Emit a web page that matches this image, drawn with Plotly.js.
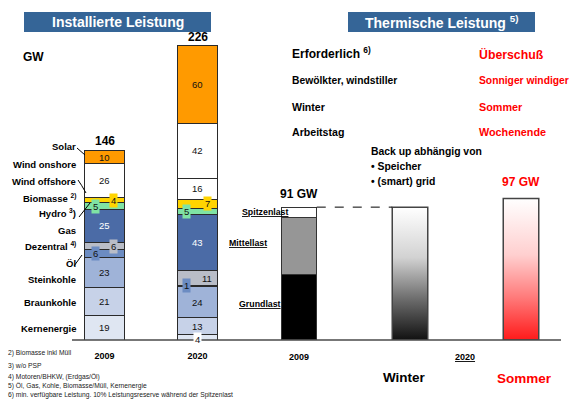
<!DOCTYPE html>
<html><head><meta charset="utf-8">
<script src="https://cdn.plot.ly/plotly-3.0.1.min.js"></script>
<style>html,body{margin:0;padding:0;background:#fff;}</style>
</head><body>
<div id="chart" style="width:571px;height:401px"></div>
<script>
// ---------- DATA ----------
const years = ['2009', '2020'];
const sources = ['Kernenergie', 'Braunkohle', 'Steinkohle', 'Öl', 'Dezentral', 'Gas', 'Hydro', 'Biomasse', 'Wind offshore', 'Wind onshore', 'Solar'];
const kernenergie = [19, 4];
const braunkohle = [21, 13];
const steinkohle = [23, 24];
const oel = [6, 1];
const dezentral = [6, 11];
const gas = [25, 43];
const hydro = [5, 5];
const biomasse = [4, 7];
const windOffshore = [0, 16];
const windOnshore = [26, 42];
const solar = [10, 60];
const totals = [146, 226];

const thermCats = ['2009', 'Winter', 'Sommer'];
const thermYears = ['2009', '2020'];
const lastTypes = ['Grundlast', 'Mittellast', 'Spitzenlast'];
const grundlast = [45];
const mittellast = [39];
const spitzenlast = [7];
const thermTotal = [91];
const winterValue = [91];
const sommerValue = [97];

// ---------- STYLE ----------
const W = 571, H = 401;
const FONT = "'Liberation Sans', Arial, sans-serif";
const RED = '#ff0000';
const X = px => px / W;
const Y = py => 1 - py / H;

const seriesVals = [kernenergie, braunkohle, steinkohle, oel, dezentral, gas, hydro, biomasse, windOffshore, windOnshore, solar];
const srcColors = {
  'Kernenergie': '#dfe6f2', 'Braunkohle': '#c7d2e8', 'Steinkohle': '#9fb3d8', 'Öl': '#6c8cc2',
  'Dezentral': '#b9bdc7', 'Gas': '#4b6ba6', 'Hydro': '#7fe3a4', 'Biomasse': '#ffd400',
  'Wind offshore': '#ffffff', 'Wind onshore': '#ffffff', 'Solar': '#ff9a00'
};
const srcLabels = {
  'Kernenergie': 'Kernenergie', 'Braunkohle': 'Braunkohle', 'Steinkohle': 'Steinkohle', 'Öl': 'Öl',
  'Dezentral': 'Dezentral <sup>4)</sup>', 'Gas': 'Gas', 'Hydro': 'Hydro <sup>3</sup>)', 'Biomasse': 'Biomasse <sup>2)</sup>',
  'Wind offshore': 'Wind offshore', 'Wind onshore': 'Wind onshore', 'Solar': 'Solar'
};
// label placement (pixel y of the category names on the left)
const srcLabelY = {
  'Solar': 147, 'Wind onshore': 164, 'Wind offshore': 181, 'Biomasse': 198, 'Hydro': 213, 'Gas': 230,
  'Dezentral': 246, 'Öl': 263, 'Steinkohle': 279, 'Braunkohle': 302, 'Kernenergie': 328
};
// value-label styling (per series / year index)
const valStyle = {
  'Biomasse': [{xs: 9, bg: '#ffd400'}, {xs: 10, bg: '#ffd400'}],
  'Hydro': [{xs: -9, bg: '#7fe3a4'}, {xs: -11, bg: '#7fe3a4'}],
  'Dezentral': [{xs: 9, bg: '#b9bdc7'}, {xs: 9}],
  'Öl': [{xs: -9, bg: '#6c8cc2'}, {xs: -11, bg: '#6c8cc2'}],
  'Gas': [{col: '#ffffff'}, {col: '#ffffff'}],
  'Kernenergie': [{}, {bg: '#ffffff', ys: -2}]
};

const BARW = 0.43;
const data = [];
sources.forEach((s, k) => {
  data.push({
    type: 'bar', x: [0, 1], y: seriesVals[k], width: BARW, name: s,
    xaxis: 'x', yaxis: 'y', hoverinfo: 'skip', showlegend: false,
    marker: {color: srcColors[s], line: {color: '#2a2a2a', width: 1}}
  });
});

// thermal 2009 stacked bar
const TW = 0.32;
const lastVals = [grundlast, mittellast, spitzenlast];
const lastColors = ['#000000', '#969696', '#ffffff'];
lastTypes.forEach((t, k) => {
  data.push({
    type: 'bar', x: [0], y: lastVals[k], width: TW, name: t,
    xaxis: 'x2', yaxis: 'y2', hoverinfo: 'skip', showlegend: false,
    marker: {color: lastColors[k], line: {color: '#333333', width: 1.2}}
  });
});
// gradient bars (Winter, Sommer) drawn as filled scatter shapes
function gradBar(xi, v, cs) {
  return {
    type: 'scatter', mode: 'lines', xaxis: 'x2', yaxis: 'y2', hoverinfo: 'skip', showlegend: false,
    x: [xi - TW / 2, xi + TW / 2, xi + TW / 2, xi - TW / 2, xi - TW / 2],
    y: [0, 0, v, v, 0],
    fill: 'toself',
    fillgradient: {type: 'vertical', colorscale: cs, start: 0, stop: v},
    line: {color: '#444444', width: 1.5}
  };
}
data.push(gradBar(1, winterValue[0], [[0, '#111111'], [0.3, '#6a6a6a'], [0.62, '#d2d2d2'], [1, '#ffffff']]));
data.push(gradBar(2, sommerValue[0], [[0, '#ff1a1a'], [0.3, '#ff7a7a'], [0.6, '#ffcfcf'], [1, '#ffffff']]));

// ---------- ANNOTATIONS ----------
const ann = [];
function A(text, px, py, o) {
  o = o || {};
  ann.push(Object.assign({
    text: text, xref: 'paper', yref: 'paper', x: X(px), y: Y(py),
    xanchor: o.xa || 'left', yanchor: 'middle', showarrow: false,
    font: {family: FONT, size: o.size || 11, color: o.color || '#000', weight: o.w === undefined ? 700 : o.w}
  }, o.extra || {}));
}

// title boxes text
A('Installierte Leistung', 117.5, 22, {xa: 'center', size: 14, color: '#ffffff'});
A('Thermische Leistung <sup>5)</sup>', 441.5, 22, {xa: 'center', size: 14, color: '#ffffff'});
A('GW', 21, 57, {size: 12});

// category labels on the left
sources.forEach(s => A(srcLabels[s], 78, srcLabelY[s], {xa: 'right', size: 9.5}));

// value labels in stacked bars
years.forEach((yr, i) => {
  let base = 0;
  sources.forEach((s, k) => {
    const v = seriesVals[k][i];
    if (v > 0) {
      const st = (valStyle[s] && valStyle[s][i]) || {};
      ann.push({
        text: String(v), xref: 'x', yref: 'y', x: i, y: base + v / 2,
        xshift: st.xs || 0, yshift: st.ys || 0, showarrow: false,
        xanchor: 'center', yanchor: 'middle',
        bgcolor: st.bg || 'rgba(0,0,0,0)', borderpad: 1,
        font: {family: FONT, size: 9.5, color: st.col || '#111'}
      });
    }
    base += v;
  });
  ann.push({
    text: String(totals[i]), xref: 'x', yref: 'y', x: i, y: totals[i], yshift: 8,
    showarrow: false, xanchor: 'center', yanchor: 'middle',
    font: {family: FONT, size: 12, color: '#000', weight: 700}
  });
});

// right-side text block
A('Erforderlich <sup>6)</sup>', 290, 53, {size: 12});
A('Bewölkter, windstiller', 290, 81, {size: 10.3});
A('Winter', 290, 107, {size: 10.6});
A('Arbeitstag', 290, 132, {size: 10.6});
A('Überschuß', 477, 54, {size: 12.3, color: RED});
A('Sonniger windiger', 477, 81, {size: 10.3, color: RED});
A('Sommer', 477, 107, {size: 10.8, color: RED});
A('Wochenende', 477, 132, {size: 10.8, color: RED});
A('Back up abhängig von', 369, 152, {size: 10.4});
A('• Speicher', 369, 167, {size: 10.4});
A('• (smart) grid', 369, 182, {size: 10.4});

// thermal labels
ann.push({text: thermTotal[0] + ' GW', xref: 'x2', yref: 'y2', x: 0, y: thermTotal[0], yshift: 13,
  showarrow: false, xanchor: 'center', yanchor: 'middle', font: {family: FONT, size: 12, weight: 700, color: '#000'}});
ann.push({text: sommerValue[0] + ' GW', xref: 'x2', yref: 'y2', x: 2, y: sommerValue[0], yshift: 16,
  showarrow: false, xanchor: 'center', yanchor: 'middle', font: {family: FONT, size: 12, weight: 700, color: RED}});
A('<u>' + lastTypes[2] + '</u>', 291, 212, {xa: 'right', size: 8.8});
A('<u>' + lastTypes[1] + '</u>', 227, 243, {size: 8.8});
A('<u>' + lastTypes[0] + '</u>', 237, 304, {size: 8.8});

// bottom labels on the right
A(thermCats[0], 299, 357, {xa: 'center', size: 9});
A('<u>' + thermYears[1] + '</u>', 464.5, 357, {xa: 'center', size: 9});
A(thermCats[1], 404.5, 377, {xa: 'center', size: 13.5});
A(thermCats[2], 524, 378, {xa: 'center', size: 13.5, color: RED});

// footnotes
const notes = [
  ['2) Biomasse inkl Müll', 352.5],
  ['3) w/o PSP', 366],
  ['4) Motoren/BHKW, (Erdgas/Öl)', 376.5],
  ['5) Öl, Gas, Kohle, Biomasse/Müll, Kernenergie', 386],
  ['6) min. verfügbare Leistung. 10% Leistungsreserve während der Spitzenlast', 395]
];
notes.forEach(n => A(n[0], 6, n[1], {size: 6.7, w: 400, color: '#222'}));

// ---------- SHAPES ----------
const shapes = [
  {type: 'rect', xref: 'paper', yref: 'paper', x0: X(24), x1: X(211), y0: Y(32), y1: Y(12), fillcolor: '#356597', line: {width: 0}},
  {type: 'rect', xref: 'paper', yref: 'paper', x0: X(348), x1: X(535), y0: Y(32), y1: Y(12), fillcolor: '#356597', line: {width: 0}},
  {type: 'line', xref: 'paper', yref: 'paper', x0: X(72), x1: X(561), y0: Y(340), y1: Y(340), line: {color: '#4a4a4a', width: 1.5}},
  // leader lines
  {type: 'line', xref: 'paper', yref: 'paper', x0: X(77), y0: Y(148), x1: X(85), y1: Y(155), line: {color: '#000', width: 1}},
  {type: 'path', xref: 'paper', yref: 'paper', path: `M ${X(78)} ${Y(180)} Q ${X(81)} ${Y(184)} ${X(86)} ${Y(193)}`, line: {color: '#000', width: 1}},
  {type: 'line', xref: 'paper', yref: 'paper', x0: X(79), y0: Y(217), x1: X(90), y1: Y(203), line: {color: '#000', width: 1}},
  {type: 'line', xref: 'paper', yref: 'paper', x0: X(74), y0: Y(266), x1: X(82), y1: Y(255), line: {color: '#000', width: 1}},
  // dashed connector from 2009 thermal top to winter bar
  {type: 'line', xref: 'x2', yref: 'y2', x0: TW / 2, x1: 1 - TW / 2, y0: thermTotal[0], y1: thermTotal[0], line: {color: '#000', width: 1, dash: 'dash'}}
];

const layout = {
  width: W, height: H, margin: {l: 0, r: 0, t: 0, b: 0},
  paper_bgcolor: '#ffffff', plot_bgcolor: 'rgba(0,0,0,0)',
  barmode: 'stack', showlegend: false,
  xaxis: {domain: [X(58), X(244)], range: [-0.5, 1.5], tickvals: [0, 1], ticktext: years,
    showgrid: false, zeroline: false, showline: false, ticks: '', ticklabelstandoff: 9,
    tickfont: {family: FONT, size: 9, weight: 700, color: '#000'}, fixedrange: true},
  yaxis: {domain: [Y(340), 1], range: [0, 340 / 1.305], visible: false, fixedrange: true},
  xaxis2: {domain: [X(265.7), X(554.3)], range: [-0.3, 2.3], anchor: 'y2', visible: false, fixedrange: true},
  yaxis2: {domain: [Y(340), 1], range: [0, 340 / 1.46], anchor: 'x2', visible: false, fixedrange: true},
  annotations: ann, shapes: shapes
};

Plotly.newPlot('chart', data, layout, {displayModeBar: false, staticPlot: true});
</script>
</body></html>
